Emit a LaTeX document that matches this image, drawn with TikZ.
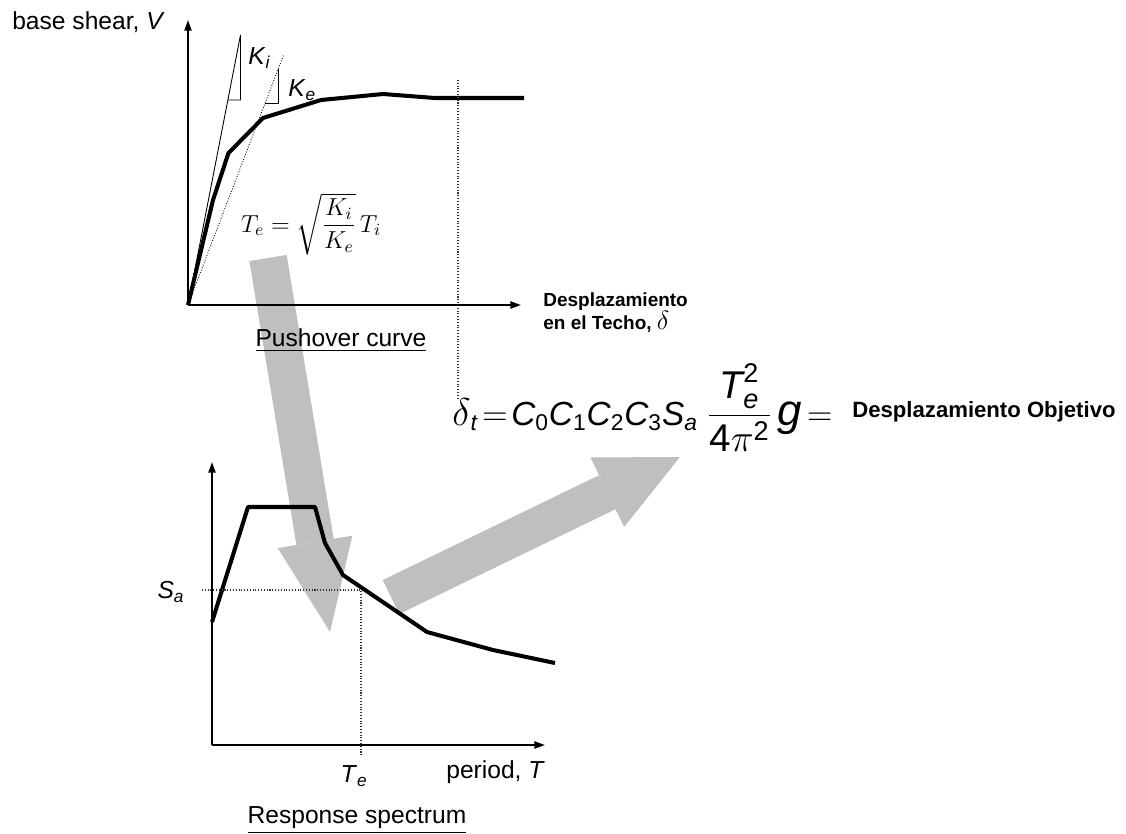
\RequirePackage{fix-cm}
\documentclass[tikz,border=0pt]{standalone}
\usepackage{amsmath}
\usepackage{fontspec}
\setmainfont{Liberation Sans}
\usetikzlibrary{arrows.meta,positioning}

\newcommand{\dsub}[1]{_{\mbox{\fontsize{13}{13}\selectfont #1}}}
\newcommand{\sized}[2]{\mbox{\fontsize{#1}{#1}\selectfont #2}}

\begin{document}
\begin{tikzpicture}[
  x=0.02cm, y=-0.02cm,
  axis/.style={line width=1pt, -{Triangle[length=6pt,width=4pt]}},
  curve/.style={line width=2.3pt, line join=round},
  slope/.style={line width=0.5pt},
  guide/.style={line width=0.6pt, densely dotted, black!80},
  bigarrow/.style={draw=black!25, line width=21.5pt},
  lbl/.style={font=\fontsize{14}{16}\selectfont, inner sep=0pt},
  capt/.style={font=\fontsize{14}{16}\selectfont, inner sep=0pt},
  bold/.style={font=\fontsize{10.8}{13}\selectfont\bfseries, inner sep=0pt, align=left}
]
\useasboundingbox (0,0) rectangle (1126,833);

% gray arrows (behind everything)
\coordinate (a1s) at (268,258);
\coordinate (a1e) at (330,632);
\coordinate (a2s) at (391,597);
\coordinate (a2e) at (680,457);
\draw[bigarrow, -{Triangle[length=52pt,width=43pt,line width=0pt]}] (a1s) -- (a1e);
\draw[bigarrow, -{Triangle[length=46pt,width=44pt,line width=0pt]}] (a2s) -- (a2e);

% pushover curve
\coordinate (o1) at (188,305);
\coordinate (v1) at (188,20);
\coordinate (d1) at (521,305);
\coordinate (ki) at (240.5,35);
\coordinate (ke) at (283.5,55);
\draw[axis] (o1) -- (v1);
\draw[axis] (o1) -- (d1);
\draw[slope] (o1) -- (ki) -- (240.5,100) -- (228,100);
\draw[slope, densely dotted] (o1) -- (ke);
\draw[slope] (278.3,69) -- (278.3,103) -- (265.2,103);
\draw[curve] (o1) -- (213,200) -- (228.5,153) -- (263,118) -- (321,100)
  -- (383,94) -- (435,98) -- (524,98);
\draw[guide] (458,80) -- (458,398);

\node[lbl, anchor=east] (vlab) at (165,22) {base shear, \textit{V}};
\node[lbl, anchor=west] (kilab) at (248,58) {\textit{K}\textsubscript{\textit{i}}};
\node[lbl, anchor=west] (kelab) at (288,90) {\textit{K}\textsubscript{\textit{e}}};
\node[font=\fontsize{14}{16}\selectfont] (tef) at (311,224)
  {$T_e = \sqrt{\dfrac{K_i}{K_e}}\,T_i$};
\node[bold, anchor=west] (dlab) at (543,313)
  {Desplazamiento\\en el Techo, \textnormal{\fontsize{15}{15}\selectfont$\delta$}};
\node[capt] (pc) at (341,340) {\underline{Pushover curve}};

% target displacement
\node[anchor=base west, inner sep=0pt, font=\fontsize{19}{22}\selectfont] (dt) at (452,425)
  {$\sized{22}{$\delta$}\dsub{\textit{t}}\mkern2mu\sized{20}{$=$}\mkern2mu
   \textit{C}\dsub{0}\textit{C}\dsub{1}\textit{C}\dsub{2}\textit{C}\dsub{3}\textit{S}\dsub{\textit{a}}\;
   \sized{22}{$\dfrac{\textit{T}_{\textit{e}}^{\text{2}}}{\text{4}\pi^{\text{2}}}$}\,
   \sized{25}{\textit{g}}\,\sized{20}{$=$}$};
\node[anchor=west, inner sep=0pt, font=\bfseries\fontsize{12.6}{14}\selectfont] (obj) at (852,412)
  {Desplazamiento Objetivo};

% response spectrum
\coordinate (o2) at (212,745);
\coordinate (v2) at (212,462);
\coordinate (t2) at (545,745);
\coordinate (sa) at (361,590);
\draw[axis] (o2) -- (v2);
\draw[axis] (o2) -- (t2);
\draw[curve] (212,622) -- (248,507) -- (315,507) -- (325,543) -- (343,575)
  -- (427,632) -- (493,650) -- (555,663);
\draw[guide] (202,590) -- (sa) -- (361,755);

\node[lbl] (salab) at (171,592) {\textit{S}\textsubscript{\textit{a}}};
\node[lbl] (telab) at (354,776) {\textit{T}\textsubscript{\textit{e}}};
\node[lbl, anchor=west] (plab) at (446,772) {period, \textit{T}};
\node[capt] (rs) at (357,820) {\underline{Response spectrum}};
\end{tikzpicture}
\end{document}
